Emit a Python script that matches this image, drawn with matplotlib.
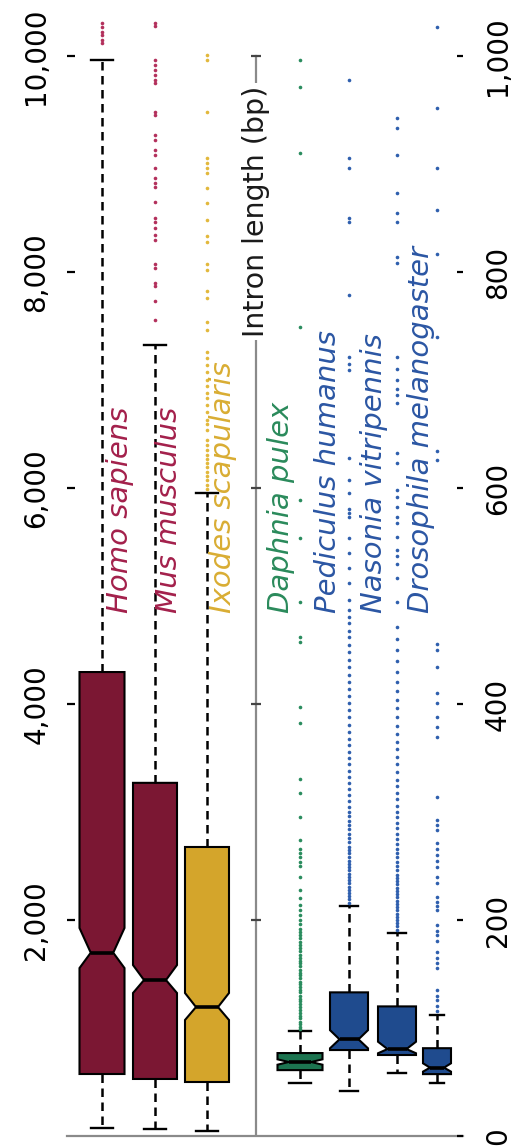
import numpy as np
import matplotlib.pyplot as plt

# species, left three on the 0-10,000 bp scale, right four on 0-1,000 bp
species = ['Homo sapiens', 'Mus musculus', 'Ixodes scapularis',
           'Daphnia pulex', 'Pediculus humanus', 'Nasonia vitripennis',
           'Drosophila melanogaster']

q1 = [574, 528, 500, 61, 79.6, 75, 57.3]
med = [1697, 1444, 1194, 68.5, 89.5, 80.5, 63.3]
q3 = [4296, 3270, 2676, 76.8, 133, 120, 81.3]
whislo = [74, 65, 46, 49, 41.7, 58, 49]
whishi = [9963, 7324, 5954, 97, 213, 188, 112]
cilo = [1555, 1324, 1074, 66, 81.2, 76.6, 59.6]
cihi = [1926, 1583, 1324, 71, 98, 87.3, 67.3]

homo_out = [10120, 10150, 10190, 10220, 10270, 10310]
mus_out = [7560, 7730, 7870, 7900, 8040, 8070, 8300, 8340, 8410, 8460, 8500,
           8650, 8790, 8820, 8870, 8960, 9080, 9130, 9220, 9270, 9450, 9480,
           9750, 9780, 9820, 9870, 9920, 9960, 10280, 10310]
ixodes_out = [5990, 6030, 6070, 6110, 6150, 6190, 6230, 6270, 6310, 6350,
              6400, 6440, 6540, 6590, 6630, 6700, 6770, 6830, 6880, 6940,
              7000, 7070, 7140, 7200, 7260, 7460, 7540, 7760, 7820, 8020,
              8070, 8280, 8330, 8480, 8640, 8780, 8920, 8960, 9010, 9060,
              9480, 9960, 10010]
daphnia_out = [99, 101, 104, 106, 109, 111, 114, 117, 119, 122, 125, 127, 130,
               133, 135, 138, 141, 143, 146, 149, 151, 154, 157, 160, 162, 165,
               168, 171, 174, 177, 180, 183, 186, 189, 192, 196, 200, 205, 209,
               214, 220, 228, 240, 250, 254, 258, 262, 266, 274, 295, 318, 331,
               382, 397, 457, 462, 494, 554, 589, 749, 910, 971, 996]
pediculus_out = [216, 219, 222, 225, 228, 231, 234, 237, 240, 243, 246, 249,
                 252, 255, 258, 262, 265, 268, 272, 276, 280, 284, 288, 292,
                 296, 300, 305, 310, 316, 321, 327, 332, 338, 344, 350, 356,
                 362, 368, 374, 381, 388, 394, 401, 407, 414, 420, 427, 434,
                 441, 448, 455, 462, 468, 475, 481, 487, 496, 512, 526, 540,
                 554, 573, 577, 581, 595, 607, 628, 709, 715, 721, 779, 846,
                 850, 896, 906, 978]
nasonia_out = [191, 194, 197, 200, 203, 206, 209, 212, 215, 218, 221, 224, 227,
               230, 233, 236, 239, 242, 246, 250, 254, 258, 262, 266, 270, 275,
               280, 285, 290, 295, 300, 306, 312, 318, 324, 330, 337, 344, 351,
               358, 365, 372, 380, 388, 396, 404, 412, 420, 430, 440, 450, 460,
               471, 494, 517, 530, 537, 543, 555, 568, 573, 582, 592, 598, 623,
               632, 679, 686, 692, 700, 710, 721, 808, 814, 846, 855, 873, 908,
               933, 943]
drosophila_out = [116, 120, 126, 130, 135, 156, 160, 165, 170, 181, 186, 190,
                  195, 209, 213, 217, 221, 234, 240, 249, 255, 260, 266, 271,
                  283, 288, 293, 314, 369, 379, 388, 401, 410, 434, 450, 456,
                  626, 634, 740, 817, 857, 896, 952, 1027]
outliers = [homo_out, mus_out, ixodes_out, daphnia_out, pediculus_out,
            nasonia_out, drosophila_out]

left_ticks = [2000, 4000, 6000, 8000, 10000]
left_labels = ['2,000', '4,000', '6,000', '8,000', '10,000']
right_ticks = [0, 200, 400, 600, 800, 1000]
right_labels = ['0', '200', '400', '600', '800', '1,000']

# layout (x in figure pixels) and styling
pos = [102, 155, 207, 300, 349, 397, 437]
widths = [45, 44, 44, 45, 38, 38, 28]
label_x = [120, 169, 223, 281, 328, 374, 421]
box_col = ['#7b1733', '#7b1733', '#d4a52b', '#1c7450',
           '#1f4b8e', '#1f4b8e', '#1f4b8e']
dot_col = ['#b3305c', '#b3305c', '#e2b83c', '#2a8c5e',
           '#2f5fae', '#2f5fae', '#2f5fae']
txt_col = ['#a3204b', '#a3204b', '#d9ad33', '#2a8a5b',
           '#2b56a3', '#2b56a3', '#2b56a3']

W, H = 514, 1146
fig = plt.figure(figsize=(W / 100, H / 100), dpi=100)
rect = [67 / W, 10 / H, 396 / W, 1134 / H]
axL = fig.add_axes(rect)
axR = fig.add_axes(rect)
axR.patch.set_visible(False)
axL.set_xlim(67, 463)
axR.set_xlim(67, 463)
axL.set_ylim(0, 10500)
axR.set_ylim(0, 1050)

stats = []
for i in range(7):
    stats.append(dict(med=med[i], q1=q1[i], q3=q3[i], whislo=whislo[i],
                      whishi=whishi[i], cilo=cilo[i], cihi=cihi[i],
                      fliers=np.array(outliers[i])))

common = dict(shownotches=True, patch_artist=True,
              boxprops=dict(edgecolor='black', linewidth=1.5),
              whiskerprops=dict(color='black', linewidth=1.8,
                                linestyle=(0, (3.4, 2.2))),
              capprops=dict(color='black', linewidth=1.7),
              medianprops=dict(color='black', linewidth=2.6),
              flierprops=dict(marker='o', markersize=2.6, markeredgewidth=0,
                              linestyle='none'))

for ax, idx in [(axL, [0, 1, 2]), (axR, [3, 4, 5, 6])]:
    bp = ax.bxp([stats[i] for i in idx], positions=[pos[i] for i in idx],
                widths=[widths[i] for i in idx],
                capwidths=[widths[i] * 0.48 for i in idx], **common)
    for k, i in enumerate(idx):
        bp['boxes'][k].set_facecolor(box_col[i])
        bp['fliers'][k].set_markerfacecolor(dot_col[i])
        bp['fliers'][k].set_clip_on(False)
    for k, i in enumerate(idx):
        ax.text(label_x[i], 484 * (10 if ax is axL else 1), species[i],
                rotation=90, ha='center', va='bottom', style='italic',
                fontsize=21, color=txt_col[i])

for ax in (axL, axR):
    for s in ax.spines.values():
        s.set_visible(False)
    ax.set_xticks([])

axL.set_yticks(left_ticks, left_labels)
axL.tick_params(axis='y', direction='in', length=6, width=1.6,
                pad=12, labelsize=20, labelrotation=90)
for t in axL.get_yticklabels():
    t.set_verticalalignment('center')

axR.yaxis.tick_right()
axR.set_yticks(right_ticks, right_labels)
axR.tick_params(axis='y', direction='in', length=4.5, width=1.6,
                pad=15, labelsize=20, labelrotation=90)
for t in axR.get_yticklabels():
    t.set_verticalalignment('center')

# baseline and the central axis
axR.axhline(0, color='#8a8a8a', linewidth=1.6, clip_on=False, zorder=1)
axR.plot([256, 256], [0, 1000], color='#8a8a8a', linewidth=1.6, zorder=1)
axR.hlines([200, 400, 600, 800, 1000], 251, 261, color='#444444',
           linewidth=1.6, zorder=1)
axR.text(256, 856, 'Intron length (bp)', rotation=90, ha='center',
         va='center', fontsize=20.5, color='#1a1a1a', zorder=3,
         bbox=dict(facecolor='white', edgecolor='none', pad=2))

fig.savefig('out.png', dpi=100)
